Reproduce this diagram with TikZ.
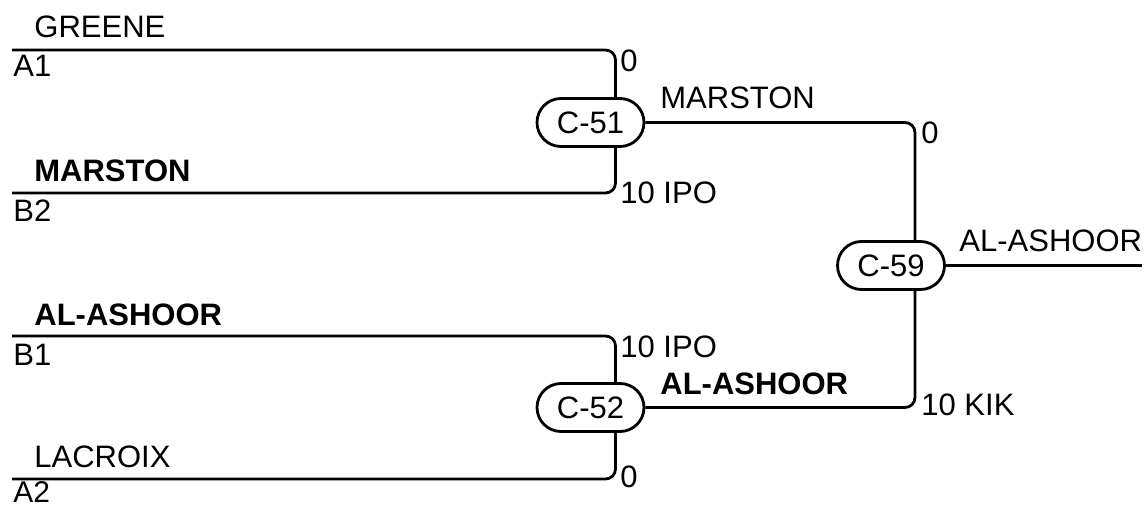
\documentclass[tikz,border=0pt]{standalone}
\usepackage{fontspec}
\setmainfont{Liberation Sans}
\newcommand\lblfont{\fontsize{31}{36}\selectfont}
\begin{document}
\begin{tikzpicture}[x=1pt,y=-1pt,line width=2.8pt,line join=round,
  match/.style={draw, rounded corners=24pt, minimum width=107pt, minimum height=48pt, inner sep=0pt, font=\lblfont},
  lbl/.style={anchor=base west, inner sep=0pt, font=\lblfont},
  boldlbl/.style={lbl, font=\lblfont\bfseries},
  wire/.style={rounded corners=10pt}]
\useasboundingbox (0,0) rectangle (1148,508);
\node[match] (c51) at (590.5,122.5) {C-51};
\node[match] (c52) at (590.5,407.5) {C-52};
\node[match] (c59) at (891,265.5) {C-59};
\coordinate (a1) at (12,50);
\coordinate (b2) at (12,193);
\coordinate (b1) at (12,336);
\coordinate (a2) at (12,479);
\coordinate (out) at (1142,265.5);
\draw[wire] (a1) -| ([xshift=25pt]c51.north);
\draw[wire] (b2) -| ([xshift=25pt]c51.south);
\draw[wire] (b1) -| ([xshift=25pt]c52.north);
\draw[wire] (a2) -| ([xshift=25pt]c52.south);
\draw[wire] (c51.east) -| ([xshift=24pt]c59.north);
\draw[wire] (c52.east) -| ([xshift=24pt]c59.south);
\draw (c59.east) -- (out);
\node[lbl] (tGreene) at (33,38) {GREENE};
\node[lbl] (tA1) at (12,77) {A1};
\node[boldlbl] (tMarston) at (33,181) {MARSTON};
\node[lbl] (tB2) at (12,221) {B2};
\node[boldlbl] (tAlAshoor) at (33,325) {AL-ASHOOR};
\node[lbl] (tB1) at (12,365) {B1};
\node[lbl] (tLacroix) at (33,467) {LACROIX};
\node[lbl, font=\fontsize{30}{36}\selectfont] (tA2) at (12,502.5) {A2};
\node[lbl] (s51a) at (619,72) {0};
\node[lbl] (s51b) at (619,203) {10 IPO};
\node[lbl] (w51) at (659,109) {MARSTON};
\node[lbl] (s52a) at (619,357) {10 IPO};
\node[boldlbl] (w52) at (659,394) {AL-ASHOOR};
\node[lbl] (s52b) at (619,487) {0};
\node[lbl] (s59a) at (920,143) {0};
\node[lbl] (s59b) at (920,415) {10 KIK};
\node[lbl] (w59) at (958,251) {AL-ASHOOR};
\end{tikzpicture}
\end{document}
